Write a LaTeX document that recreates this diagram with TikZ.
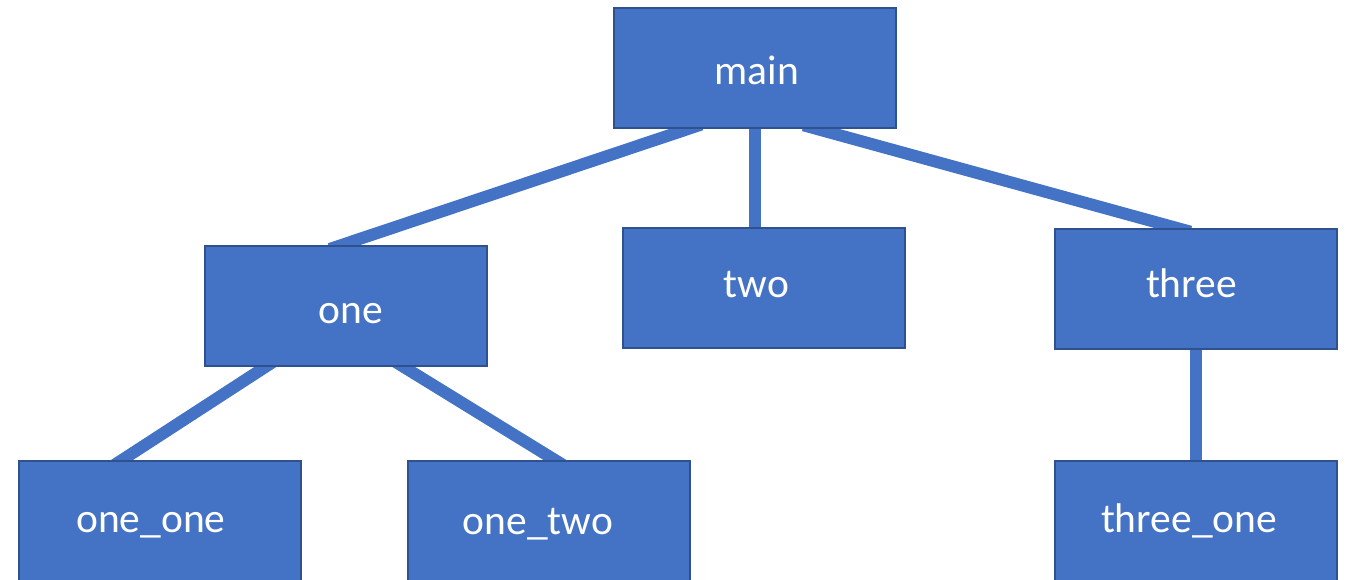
\documentclass[tikz,border=0pt]{standalone}
\usepackage{fontspec}
\setmainfont{Carlito}
\usetikzlibrary{calc,backgrounds}
\definecolor{boxfill}{HTML}{4472C4}
\definecolor{boxline}{HTML}{2F528F}
\begin{document}
\begin{tikzpicture}[x=1pt,y=-1pt,
  box/.style={draw=boxline, line width=2pt, fill=boxfill, minimum width=282pt, minimum height=120pt, inner sep=0pt},
  txt/.style={anchor=base, inner sep=0pt, text=white, font=\fontsize{41.5}{50}\selectfont},
  conn/.style={draw=boxfill, line width=12pt, shorten <=-14pt, shorten >=-14pt}]
\useasboundingbox (0,0) rectangle (1348,580);
\node[box] (main) at (755,68) {};
\node[box] (one) at (346,305.5) {};
\node[box] (two) at (764,288) {};
\node[box] (three) at (1196,289) {};
\node[box] (oneone) at (160,521) {};
\node[box] (onetwo) at (549,521) {};
\node[box] (threeone) at (1196,521) {};
\node[txt] (mainT) at ($(main.center)+(2,17)$) {main};
\node[txt] (oneT) at ($(one.center)+(5,17.5)$) {one};
\node[txt] (twoT) at ($(two.center)+(-7.5,9)$) {two};
\node[txt] (threeT) at ($(three.center)+(-4.5,8)$) {three};
\node[txt] (oneoneT) at ($(oneone.center)+(-9,11)$) {one\_one};
\node[txt] (onetwoT) at ($(onetwo.center)+(-11,13)$) {one\_two};
\node[txt] (threeoneT) at ($(threeone.center)+(-7,11)$) {three\_one};
\begin{scope}[on background layer]
\draw[conn] ($(main.south)+(-67,0)$) -- ($(one.north)+(-3,0)$);
\draw[conn] (main.south) -- (main.south |- two.north);
\draw[conn] ($(main.south)+(62,0)$) -- ($(three.north)+(-19,0)$);
\draw[conn] ($(one.south)+(-80,0)$) -- ($(oneone.north)+(-38,0)$);
\draw[conn] ($(one.south)+(57,0)$) -- ($(onetwo.north)+(6,0)$);
\draw[conn] (three.south) -- (threeone.north);
\end{scope}
\end{tikzpicture}
\end{document}
